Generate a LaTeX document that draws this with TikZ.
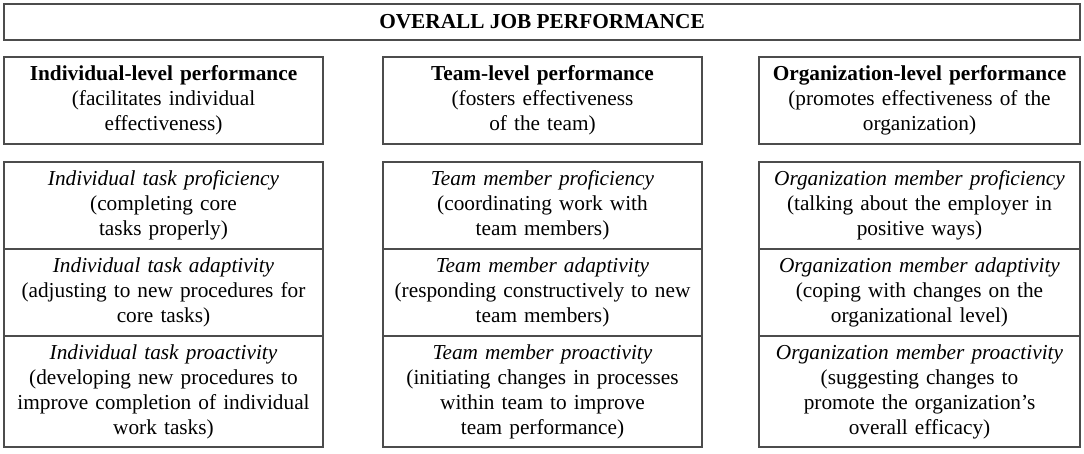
\documentclass[tikz,border=0pt]{standalone}
\usepackage{fontspec}
\setmainfont{Liberation Serif}
\begin{document}
\begin{tikzpicture}[x=1pt,y=-1pt,
  cell/.style={draw=black!70, line width=1.2pt, rectangle, inner sep=0pt, align=center,
     font=\fontsize{21.3}{25}\selectfont},
  colbox/.style={cell, minimum width=319pt, text width=317pt}]
\useasboundingbox (0,0) rectangle (1084,454);
\node[cell, minimum width=1076pt, minimum height=36pt] (top) at (542,22) {\textbf{OVERALL JOB PERFORMANCE}};
% headers
\node[colbox, minimum height=87pt] (h1) at (163.5,100.5) {\textbf{Individual-level performance}\\(facilitates individual\\effectiveness)};
\node[colbox, minimum height=87pt] (h2) at (542.5,100.5) {\textbf{Team-level performance}\\(fosters effectiveness\\of the team)};
\node[colbox, minimum width=321pt, minimum height=87pt] (h3) at (919.5,100.5) {\textbf{Organization-level performance}\\(promotes effectiveness of the\\organization)};
% row 1
\node[colbox, minimum height=87pt] (a1) at (163.5,205.5) {\textit{Individual task proficiency}\\(completing core\\tasks properly)};
\node[colbox, minimum height=87pt] (b1) at (542.5,205.5) {\textit{Team member proficiency}\\(coordinating work with\\team members)};
\node[colbox, minimum width=321pt, minimum height=87pt] (c1) at (919.5,205.5) {\textit{Organization member proficiency}\\(talking about the employer in\\positive ways)};
% row 2
\node[colbox, minimum height=87pt] (a2) at (163.5,292.5) {\textit{Individual task adaptivity}\\(adjusting to new procedures for\\core tasks)};
\node[colbox, minimum height=87pt] (b2) at (542.5,292.5) {\textit{Team member adaptivity}\\(responding constructively to new\\team members)};
\node[colbox, minimum width=321pt, minimum height=87pt] (c2) at (919.5,292.5) {\textit{Organization member adaptivity}\\(coping with changes on the\\organizational level)};
% row 3
\node[colbox, minimum height=111pt] (a3) at (163.5,391.5) {\textit{Individual task proactivity}\\(developing new procedures to\\improve completion of individual\\work tasks)};
\node[colbox, minimum height=111pt] (b3) at (542.5,391.5) {\textit{Team member proactivity}\\(initiating changes in processes\\within team to improve\\team performance)};
\node[colbox, minimum width=321pt, minimum height=111pt] (c3) at (919.5,391.5) {\textit{Organization member proactivity}\\(suggesting changes to\\promote the organization’s\\overall efficacy)};
\end{tikzpicture}
\end{document}
